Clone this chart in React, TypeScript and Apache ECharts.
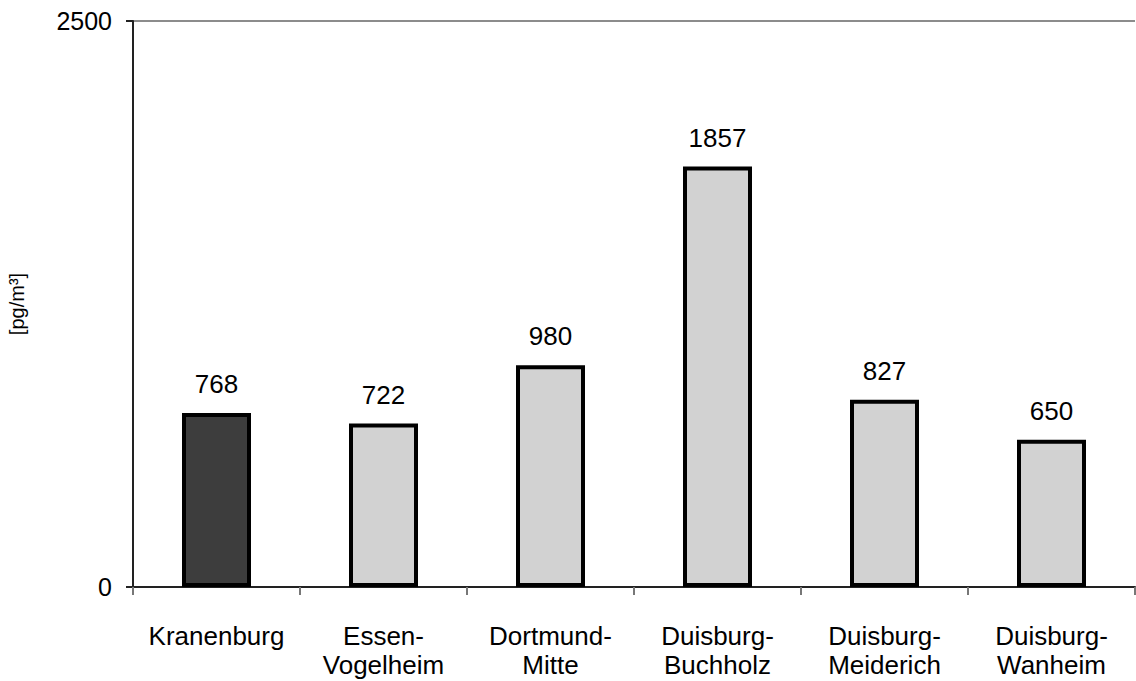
import React, { useEffect, useRef } from "react";
import * as echarts from "echarts";

const categories = [
  "Kranenburg",
  "Essen-\nVogelheim",
  "Dortmund-\nMitte",
  "Duisburg-\nBuchholz",
  "Duisburg-\nMeiderich",
  "Duisburg-\nWanheim",
];
const values = [768, 722, 980, 1857, 827, 650];
const barColors = ["#3d3d3d", "#d2d2d2", "#d2d2d2", "#d2d2d2", "#d2d2d2", "#d2d2d2"];
const yMin = 0;
const yMax = 2500;
const yName = "[pg/m³]";

const FONT = "'Liberation Sans', Arial, sans-serif";

export default function App() {
  const ref = useRef<HTMLDivElement>(null);
  useEffect(() => {
    if (!ref.current) return;
    const chart = echarts.init(ref.current, undefined, { renderer: "svg" });
    chart.setOption({
      animation: false,
      backgroundColor: "#ffffff",
      textStyle: { fontFamily: FONT },
      grid: {
        left: 133,
        right: 1,
        top: 21,
        bottom: 94,
        containLabel: false,
        outerBoundsMode: "none",
      },
      xAxis: {
        type: "category",
        data: categories,
        axisLine: { show: true, lineStyle: { color: "#222", width: 2 } },
        axisTick: { show: true, alignWithLabel: false, length: 8, lineStyle: { color: "#777", width: 2 } },
        axisLabel: { color: "#000", fontSize: 26, lineHeight: 29, margin: 34, fontFamily: FONT, interval: 0 },
        splitLine: { show: false },
      },
      yAxis: {
        type: "value",
        min: yMin,
        max: yMax,
        interval: 2500,
        name: yName,
        nameLocation: "middle",
        nameRotate: 90,
        nameGap: 106,
        nameTextStyle: { color: "#000", fontSize: 20, fontFamily: FONT },
        axisLine: { show: true, lineStyle: { color: "#222", width: 2 } },
        axisTick: { show: true, length: 7, lineStyle: { color: "#222", width: 2 } },
        axisLabel: {
          color: "#000",
          fontSize: 25,
          margin: 21,
          fontFamily: FONT,
          formatter: (v: number) => String(v),
        },
        splitLine: { show: true, lineStyle: { color: "#8c8c8c", width: 2 } },
      },
      series: [
        {
          type: "bar",
          data: values.map((v, i) => ({ value: v, itemStyle: { color: barColors[i] } })),
          barWidth: 69,
          itemStyle: { borderColor: "#000", borderWidth: 4 },
          label: {
            show: true,
            position: "top",
            distance: 16,
            color: "#000",
            fontSize: 26,
            fontFamily: FONT,
          },
        },
      ],
    });
    return () => chart.dispose();
  }, []);
  return (
    <div
      ref={ref}
      style={{ position: "fixed", left: 0, top: 0, width: 1136, height: 681, background: "#fff" }}
    />
  );
}
